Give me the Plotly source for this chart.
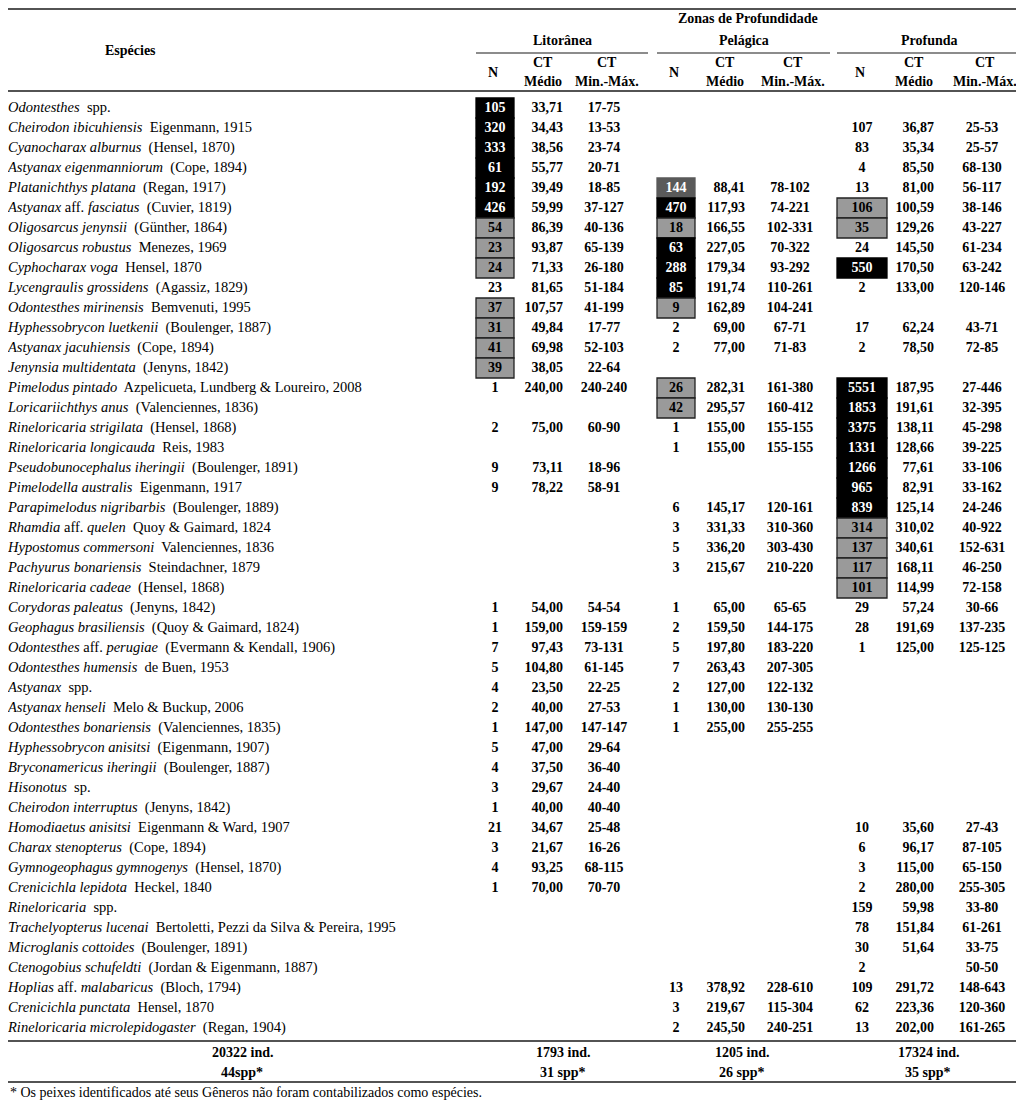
import plotly.graph_objects as go

# ---- dados da tabela ----
species = [
    "Odontesthes", "Cheirodon ibicuhiensis", "Cyanocharax alburnus", "Astyanax eigenmanniorum",
    "Platanichthys platana", "Astyanax aff. fasciatus", "Oligosarcus jenynsii", "Oligosarcus robustus",
    "Cyphocharax voga", "Lycengraulis grossidens", "Odontesthes mirinensis", "Hyphessobrycon luetkenii",
    "Astyanax jacuhiensis", "Jenynsia multidentata", "Pimelodus pintado", "Loricariichthys anus",
    "Rineloricaria strigilata", "Rineloricaria longicauda", "Pseudobunocephalus iheringii",
    "Pimelodella australis", "Parapimelodus nigribarbis", "Rhamdia aff. quelen", "Hypostomus commersoni",
    "Pachyurus bonariensis", "Rineloricaria cadeae", "Corydoras paleatus", "Geophagus brasiliensis",
    "Odontesthes aff. perugiae", "Odontesthes humensis", "Astyanax", "Astyanax henseli",
    "Odontesthes bonariensis", "Hyphessobrycon anisitsi", "Bryconamericus iheringii", "Hisonotus",
    "Cheirodon interruptus", "Homodiaetus anisitsi", "Charax stenopterus", "Gymnogeophagus gymnogenys",
    "Crenicichla lepidota", "Rineloricaria", "Trachelyopterus lucenai", "Microglanis cottoides",
    "Ctenogobius schufeldti", "Hoplias aff. malabaricus", "Crenicichla punctata",
    "Rineloricaria microlepidogaster",
]
authors = [
    "spp.", "Eigenmann, 1915", "(Hensel, 1870)", "(Cope, 1894)",
    "(Regan, 1917)", "(Cuvier, 1819)", "(Günther, 1864)", "Menezes, 1969",
    "Hensel, 1870", "(Agassiz, 1829)", "Bemvenuti, 1995", "(Boulenger, 1887)",
    "(Cope, 1894)", "(Jenyns, 1842)", "Azpelicueta, Lundberg & Loureiro, 2008", "(Valenciennes, 1836)",
    "(Hensel, 1868)", "Reis, 1983", "(Boulenger, 1891)",
    "Eigenmann, 1917", "(Boulenger, 1889)", "Quoy & Gaimard, 1824", "Valenciennes, 1836",
    "Steindachner, 1879", "(Hensel, 1868)", "(Jenyns, 1842)", "(Quoy & Gaimard, 1824)",
    "(Evermann & Kendall, 1906)", "de Buen, 1953", "spp.", "Melo & Buckup, 2006",
    "(Valenciennes, 1835)", "(Eigenmann, 1907)", "(Boulenger, 1887)", "sp.",
    "(Jenyns, 1842)", "Eigenmann & Ward, 1907", "(Cope, 1894)", "(Hensel, 1870)",
    "Heckel, 1840", "spp.", "Bertoletti, Pezzi da Silva & Pereira, 1995", "(Boulenger, 1891)",
    "(Jordan & Eigenmann, 1887)", "(Bloch, 1794)", "Hensel, 1870",
    "(Regan, 1904)",
]

# Litoranea
lit_n = [105, 320, 333, 61, 192, 426, 54, 23, 24, 23, 37, 31, 41, 39, 1, None, 2, None, 9, 9,
         None, None, None, None, None, 1, 1, 7, 5, 4, 2, 1, 5, 4, 3, 1, 21, 3, 4, 1,
         None, None, None, None, None, None, None]
lit_ct = [33.71, 34.43, 38.56, 55.77, 39.49, 59.99, 86.39, 93.87, 71.33, 81.65, 107.57, 49.84, 69.98, 38.05,
          240.00, None, 75.00, None, 73.11, 78.22, None, None, None, None, None, 54.00, 159.00, 97.43,
          104.80, 23.50, 40.00, 147.00, 47.00, 37.50, 29.67, 40.00, 34.67, 21.67, 93.25, 70.00,
          None, None, None, None, None, None, None]
lit_rng = ["17-75", "13-53", "23-74", "20-71", "18-85", "37-127", "40-136", "65-139", "26-180", "51-184",
           "41-199", "17-77", "52-103", "22-64", "240-240", "", "60-90", "", "18-96", "58-91",
           "", "", "", "", "", "54-54", "159-159", "73-131", "61-145", "22-25", "27-53", "147-147",
           "29-64", "36-40", "24-40", "40-40", "25-48", "16-26", "68-115", "70-70",
           "", "", "", "", "", "", ""]
# classe de destaque: 2 = preto, 1 = cinza, 3 = cinza escuro, 0 = sem destaque
lit_cls = [2, 2, 2, 2, 2, 2, 1, 1, 1, 0, 1, 1, 1, 1] + [0] * 33

# Pelagica
pel_n = [None, None, None, None, 144, 470, 18, 63, 288, 85, 9, 2, 2, None, 26, 42, 1, 1, None, None,
         6, 3, 5, 3, None, 1, 2, 5, 7, 2, 1, 1, None, None, None, None, None, None, None, None,
         None, None, None, None, 13, 3, 2]
pel_ct = [None, None, None, None, 88.41, 117.93, 166.55, 227.05, 179.34, 191.74, 162.89, 69.00, 77.00, None,
          282.31, 295.57, 155.00, 155.00, None, None, 145.17, 331.33, 336.20, 215.67, None, 65.00, 159.50,
          197.80, 263.43, 127.00, 130.00, 255.00, None, None, None, None, None, None, None, None,
          None, None, None, None, 378.92, 219.67, 245.50]
pel_rng = ["", "", "", "", "78-102", "74-221", "102-331", "70-322", "93-292", "110-261", "104-241",
           "67-71", "71-83", "", "161-380", "160-412", "155-155", "155-155", "", "",
           "120-161", "310-360", "303-430", "210-220", "", "65-65", "144-175", "183-220", "207-305",
           "122-132", "130-130", "255-255", "", "", "", "", "", "", "", "",
           "", "", "", "", "228-610", "115-304", "240-251"]
pel_cls = [0, 0, 0, 0, 3, 2, 1, 2, 2, 2, 1, 0, 0, 0, 1, 1] + [0] * 31

# Profunda
pro_n = [None, 107, 83, 4, 13, 106, 35, 24, 550, 2, None, 17, 2, None, 5551, 1853, 3375, 1331, 1266, 965,
         839, 314, 137, 117, 101, 29, 28, 1, None, None, None, None, None, None, None, None,
         10, 6, 3, 2, 159, 78, 30, 2, 109, 62, 13]
pro_ct = [None, 36.87, 35.34, 85.50, 81.00, 100.59, 129.26, 145.50, 170.50, 133.00, None, 62.24, 78.50, None,
          187.95, 191.61, 138.11, 128.66, 77.61, 82.91, 125.14, 310.02, 340.61, 168.11, 114.99, 57.24,
          191.69, 125.00, None, None, None, None, None, None, None, None,
          35.60, 96.17, 115.00, 280.00, 59.98, 151.84, 51.64, None, 291.72, 223.36, 202.00]
pro_rng = ["", "25-53", "25-57", "68-130", "56-117", "38-146", "43-227", "61-234", "63-242", "120-146",
           "", "43-71", "72-85", "", "27-446", "32-395", "45-298", "39-225", "33-106", "33-162",
           "24-246", "40-922", "152-631", "46-250", "72-158", "30-66", "137-235", "125-125",
           "", "", "", "", "", "", "", "", "27-43", "87-105", "65-150", "255-305", "33-80", "61-261",
           "33-75", "50-50", "148-643", "120-360", "161-265"]
pro_cls = [0, 0, 0, 0, 0, 1, 1, 0, 2, 0, 0, 0, 0, 0, 2, 2, 2, 2, 2, 2, 2, 1, 1, 1, 1] + [0] * 22

zones = ["Litorânea", "Pelágica", "Profunda"]
total_ind = ["20322 ind.", "1793 ind.", "1205 ind.", "17324 ind."]
total_spp = ["44spp*", "31 spp*", "26 spp*", "35 spp*"]
footnote = "* Os peixes identificados até seus Gêneros não foram contabilizados como espécies."

# ---- geometria (pixels da imagem) ----
W, H = 1024, 1102
OFF = 8          # margem do <body> da pagina
ROW0, ROWH = 108, 20


def ry(px):
    return (px - ROW0) / ROWH


FONT = "Liberation Serif"
FILL = {1: "#9a9a9a", 2: "#000000", 3: "#5a5a5a"}

zone_cols = [
    # caixa x0/x1, centro N, borda direita CT, centro faixa, linha do grupo
    dict(n=lit_n, ct=lit_ct, rng=lit_rng, cls=lit_cls, bx=(476, 514), nx=495, ctx=563, rx=604, gl=(476, 648)),
    dict(n=pel_n, ct=pel_ct, rng=pel_rng, cls=pel_cls, bx=(657, 695), nx=676, ctx=745, rx=790, gl=(657, 830)),
    dict(n=pro_n, ct=pro_ct, rng=pro_rng, cls=pro_cls, bx=(837, 887), nx=862, ctx=934, rx=982, gl=(837, 1022)),
]

rows = list(range(len(species)))


def fmt_name(sp, au):
    if " aff. " in sp:
        g, e = sp.split(" aff. ")
        name = f"<i>{g}</i> aff. <i>{e}</i>"
    else:
        name = f"<i>{sp}</i>"
    return f"{name}\u00a0 {au}"


def fmt_ct(v):
    return "" if v is None else f"{v:.2f}".replace(".", ",")


fig = go.Figure()
shapes = []

fig.add_trace(go.Scatter(
    x=[OFF] * len(rows), y=rows, mode="text",
    text=[fmt_name(s, a) for s, a in zip(species, authors)],
    textposition="middle right",
    textfont=dict(family=FONT, size=14.5, color="black"),
    hoverinfo="skip", cliponaxis=False,
))

for z in zone_cols:
    for i, c in enumerate(z["cls"]):
        if c:
            shapes.append(dict(
                type="rect", xref="x", yref="y", layer="below",
                x0=z["bx"][0], x1=z["bx"][1], y0=i - 0.5, y1=i + 0.5,
                fillcolor=FILL[c],
                line=dict(color="#222222" if c == 1 else FILL[c], width=1.3),
            ))
    fig.add_trace(go.Scatter(
        x=[z["nx"]] * len(rows), y=rows, mode="text",
        text=["" if v is None else str(v) for v in z["n"]],
        textposition="middle center",
        textfont=dict(family=FONT, size=14, weight="bold",
                      color=["white" if c in (2, 3) else "black" for c in z["cls"]]),
        hoverinfo="skip", cliponaxis=False,
    ))
    fig.add_trace(go.Scatter(
        x=[z["ctx"]] * len(rows), y=rows, mode="text",
        text=[fmt_ct(v) for v in z["ct"]],
        textposition="middle left",
        textfont=dict(family=FONT, size=14, weight="bold", color="black"),
        hoverinfo="skip", cliponaxis=False,
    ))
    fig.add_trace(go.Scatter(
        x=[z["rx"]] * len(rows), y=rows, mode="text",
        text=z["rng"],
        textposition="middle center",
        textfont=dict(family=FONT, size=14, weight="bold", color="black"),
        hoverinfo="skip", cliponaxis=False,
    ))


def hline(x0, x1, ypx, w=1.5):
    shapes.append(dict(type="line", xref="x", yref="y", x0=x0, x1=x1, y0=ry(ypx), y1=ry(ypx),
                       line=dict(color="#1a1a1a", width=w)))


hline(0, 1022, 9)
hline(0, 1022, 91)
hline(0, 1022, 1041)
hline(0, 1022, 1082)
for z in zone_cols:
    hline(z["gl"][0], z["gl"][1], 53, 1.2)

ann = []


def txt(x, ypx, s, size=14, bold=True, xanchor="center"):
    ann.append(dict(x=x, y=ry(ypx), xref="x", yref="y", text=f"<b>{s}</b>" if bold else s,
                    showarrow=False, xanchor=xanchor, yanchor="middle",
                    font=dict(family=FONT, size=size, color="black")))


txt(130, 50, "Espécies")
txt(748, 18, "Zonas de Profundidade")
for name, z in zip(zones, zone_cols):
    cx = (z["gl"][0] + z["gl"][1]) / 2
    txt(cx, 40, name)
    txt(z["nx"] - 2, 72, "N")
    txt(z["ctx"] - 20, 62, "CT")
    txt(z["ctx"] - 20, 81, "Médio")
    txt(z["rx"] + 3, 62, "CT")
    txt(z["rx"] + 3, 81, "Min.-Máx.")

for x, a, b in zip([242, 563, 742, 928], total_ind, total_spp):
    txt(x, 1052, a)
    txt(x, 1072, b)
txt(OFF, 1092, footnote, size=14, bold=False, xanchor="left")

fig.update_layout(
    width=W - OFF, height=H - OFF,
    margin=dict(l=0, r=0, t=0, b=0),
    paper_bgcolor="white", plot_bgcolor="white",
    showlegend=False,
    xaxis=dict(range=[OFF, W], visible=False, fixedrange=True),
    yaxis=dict(range=[ry(H), ry(OFF)], visible=False, fixedrange=True),
    shapes=shapes,
    annotations=ann,
)

fig.write_html("out.html")
